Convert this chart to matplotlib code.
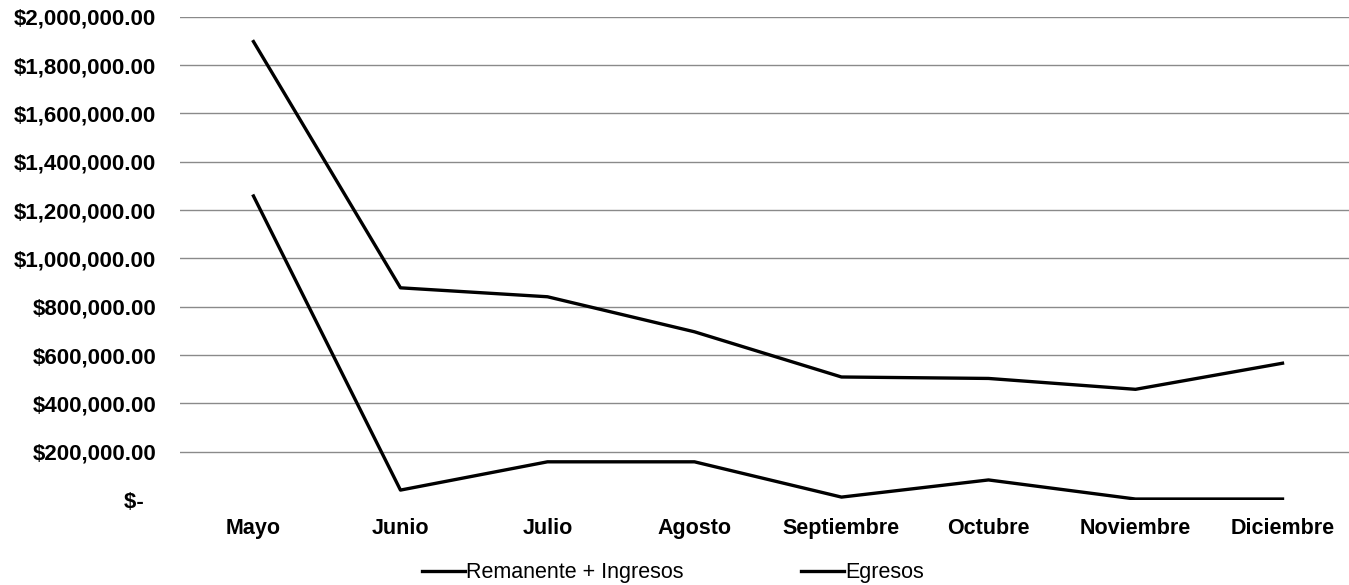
import matplotlib
matplotlib.use('Agg')
import matplotlib.pyplot as plt
from matplotlib.ticker import FuncFormatter

plt.rcParams['font.family'] = ['Liberation Sans', 'DejaVu Sans']

# datos
meses = ['Mayo', 'Junio', 'Julio', 'Agosto', 'Septiembre', 'Octubre', 'Noviembre', 'Diciembre']
remanente_ingresos = [1897000, 878000, 841000, 696000, 509000, 503000, 458000, 566000]
egresos = [1258000, 41000, 158000, 158000, 12000, 83000, 4000, 4000]
y_ticks = [0, 200000, 400000, 600000, 800000, 1000000, 1200000, 1400000, 1600000, 1800000, 2000000]


def formato_peso(v, pos):
    if v == 0:
        return '$-  '
    return '${:,.2f}'.format(v)


fig = plt.figure(figsize=(13.49, 5.85), dpi=100)
ax = fig.add_axes([0.1334, 0.1453, 0.8718, 0.8262])

x = range(len(meses))
ax.plot(x, remanente_ingresos, color='black', linewidth=2.4, label='Remanente + Ingresos')
ax.plot(x, egresos, color='black', linewidth=2.4, label='Egresos')

ax.set_xlim(-0.5, len(meses) - 0.5)
ax.set_ylim(0, 2000000)
ax.set_yticks(y_ticks)
ax.yaxis.set_major_formatter(FuncFormatter(formato_peso))
ax.set_xticks(list(x))
ax.set_xticklabels(meses)

ax.grid(axis='y', color='#8a8a8a', linewidth=1.0)
ax.yaxis.get_gridlines()[0].set_visible(False)
ax.set_axisbelow(True)
for s in ax.spines.values():
    s.set_visible(False)
ax.tick_params(axis='x', length=0, labelsize=15.5, pad=13)
ax.tick_params(axis='y', length=0, labelsize=16, pad=17)
for lbl in ax.get_xticklabels() + ax.get_yticklabels():
    lbl.set_fontweight('bold')

fig.legend(loc='center', bbox_to_anchor=(0.499, 0.021), ncol=2, frameon=False,
           fontsize=15.5, handlelength=2.0, handletextpad=0.05, columnspacing=5.45)

fig.savefig('out.png', dpi=100)
